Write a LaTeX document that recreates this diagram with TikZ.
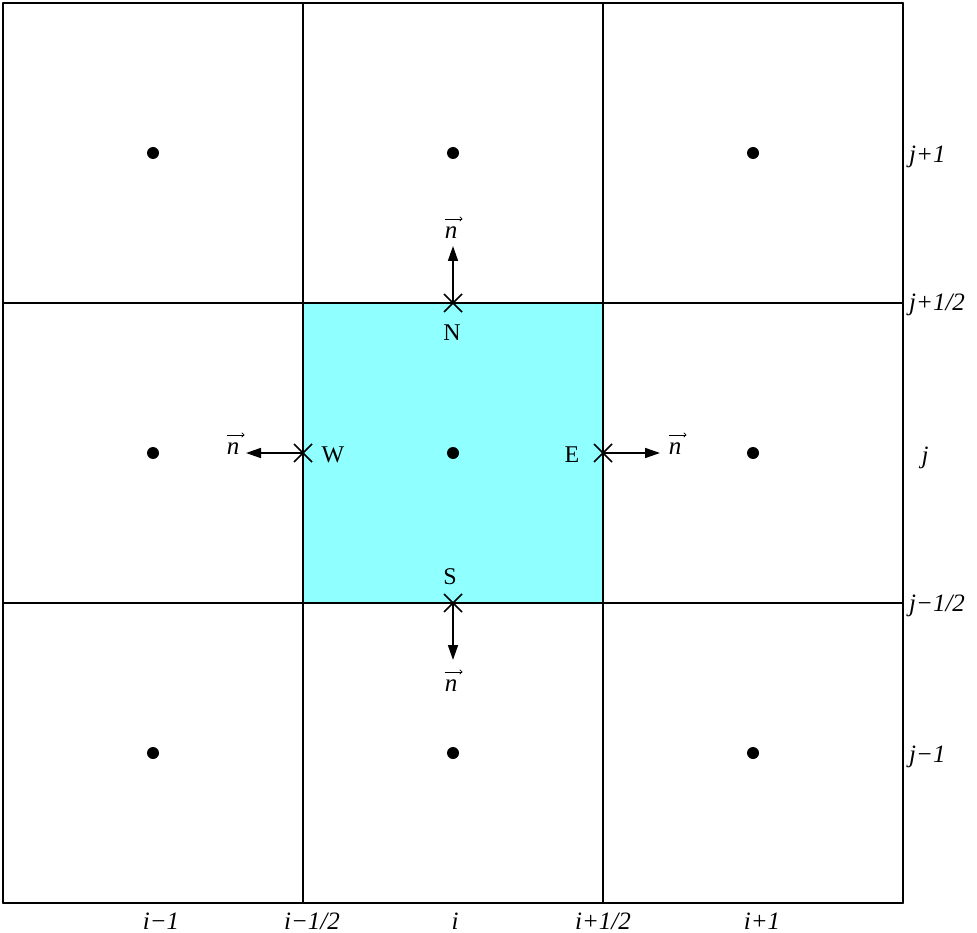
\documentclass[tikz,border=0pt]{standalone}
\usepackage{fontspec}
\setmainfont{Liberation Serif}
\usetikzlibrary{arrows.meta,calc}
\definecolor{cellcyan}{RGB}{143,255,255}
\tikzset{
  gridline/.style={line width=1.6pt,line cap=round},
  dotmark/.style={circle,fill=black,inner sep=0pt,minimum size=12pt},
  lbl/.style={font=\fontsize{24}{26}\selectfont,inner sep=0pt},
  idx/.style={font=\fontsize{25}{27}\selectfont\itshape,inner sep=0pt},
  nlbl/.style={font=\fontsize{25}{27}\selectfont\itshape,inner sep=0pt},
  vecarrow/.style={line width=0.8pt,-{To[length=3pt,width=5pt]}},
  normal/.style={line width=1.6pt,-{Triangle[length=15pt,width=10pt]}},
  crossline/.style={line width=1.6pt}
}
\begin{document}
\begin{tikzpicture}[x=1pt,y=-1pt]
\useasboundingbox (0,0) rectangle (977,933);
% shaded control volume
\fill[cellcyan] (303,303) rectangle (603,603);
% grid
\foreach \v in {3,303,603,903}{
  \draw[gridline] (\v,3) -- (\v,903);
  \draw[gridline] (3,\v) -- (903,\v);
}
% cell centres
\foreach \cx in {153,453,753}{
  \foreach \cy in {153,453,753}{
    \node[dotmark] at (\cx,\cy) {};
  }
}
% face points
\coordinate (N) at (453,303);
\coordinate (S) at (453,603);
\coordinate (W) at (303,453);
\coordinate (E) at (603,453);
\foreach \p in {N,S,W,E}{
  \draw[crossline] ($(\p)+(-9,-9)$) -- ($(\p)+(9,9)$);
  \draw[crossline] ($(\p)+(-9,9)$) -- ($(\p)+(9,-9)$);
}
% arrow tips
\coordinate (Nt) at (453,246);
\coordinate (St) at (453,660);
\coordinate (Wt) at (246,453);
\coordinate (Et) at (660,453);
\draw[normal] (N) -- (Nt);
\draw[normal] (S) -- (St);
\draw[normal] (W) -- (Wt);
\draw[normal] (E) -- (Et);
% n labels with vector arrows
\node[nlbl] (nN) at (451,233) {n};
\node[nlbl] (nS) at (451,686) {n};
\node[nlbl] (nW) at (233,449) {n};
\node[nlbl] (nE) at (675,449) {n};
\foreach \q in {nN,nS,nW,nE}{
  \draw[vecarrow] ($(\q.north west)+(0,-8)$) -- ($(\q.north east)+(5,-8)$);
}
% face letters
\node[lbl] (lN) at (452,333) {N};
\node[lbl] (lS) at (450,577) {S};
\node[lbl] (lW) at (333,455) {W};
\node[lbl] (lE) at (572,455) {E};
% j labels
\node[idx,anchor=west] (j1) at (909,157) {j+1};
\node[idx,anchor=west] (jh1) at (909,305) {j+1/2};
\node[idx] (j0) at (925,458) {j};
\node[idx,anchor=west] (jh0) at (909,606) {j−1/2};
\node[idx,anchor=west] (jm1) at (909,757) {j−1};
% i labels
\node[idx] (im1) at (161,921) {i−1};
\node[idx] (imh) at (312,921) {i−1/2};
\node[idx] (i0) at (455,921) {i};
\node[idx] (iph) at (603,921) {i+1/2};
\node[idx] (ip1) at (762,921) {i+1};
\end{tikzpicture}
\end{document}
